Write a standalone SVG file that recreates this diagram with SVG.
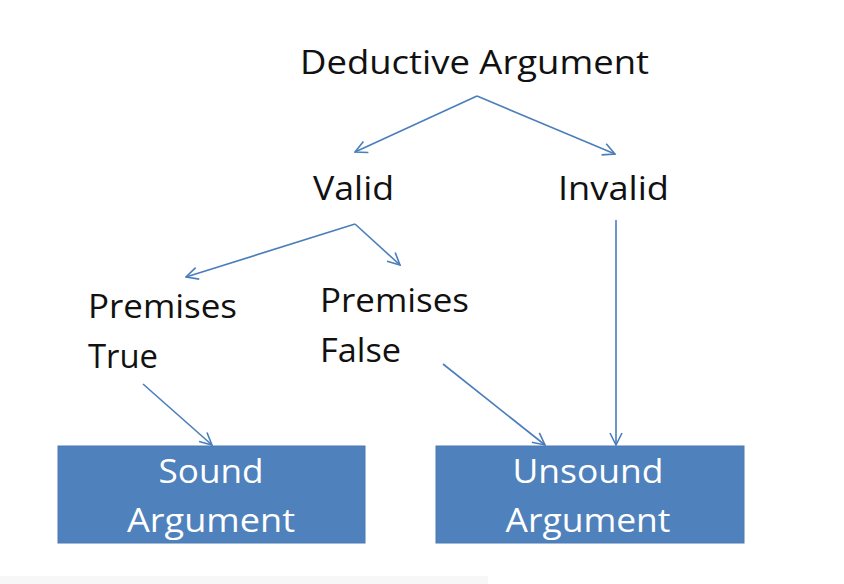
<svg xmlns="http://www.w3.org/2000/svg" width="844" height="584" viewBox="0 0 844 584">
<style>
.t{font-family:"Open Sans","Liberation Sans",sans-serif;font-size:33px;fill:#111}
.w{font-family:"Open Sans","Liberation Sans",sans-serif;font-size:33px;fill:#fff;text-anchor:middle}
.c{stroke:#4A7EBB;stroke-width:1.6;fill:none;marker-end:url(#ah)}
.box{fill:#4F81BD;stroke:#4A7AB5;stroke-width:1}
</style>
<defs>
<marker id="ah" viewBox="0 0 14 14" refX="13" refY="7" markerWidth="14" markerHeight="14" markerUnits="userSpaceOnUse" orient="auto">
<polyline points="1,1 13,7 1,13" fill="none" stroke="#4A7EBB" stroke-width="1.6"/>
</marker>
</defs>
<rect width="844" height="584" fill="#fff"/>
<rect x="0" y="576" width="488" height="8" fill="#f7f7f7"/>
<g id="connectors">
<line class="c" x1="477" y1="96" x2="355" y2="152"/>
<line class="c" x1="477" y1="96" x2="615" y2="154"/>
<line class="c" x1="355" y1="224" x2="186" y2="277"/>
<line class="c" x1="355" y1="224" x2="400" y2="265"/>
<line class="c" x1="143" y1="384" x2="212" y2="445"/>
<line class="c" x1="443" y1="364" x2="545" y2="445"/>
<line class="c" x1="616" y1="220" x2="616" y2="445"/>
</g>
<g id="deductive"><text class="t" x="300" y="74" textLength="349" lengthAdjust="spacingAndGlyphs">Deductive Argument</text></g>
<g id="valid"><text class="t" x="313" y="200" textLength="81" lengthAdjust="spacingAndGlyphs">Valid</text></g>
<g id="invalid"><text class="t" x="558" y="200" textLength="111" lengthAdjust="spacingAndGlyphs">Invalid</text></g>
<g id="premises-true">
<text class="t" x="88" y="318" textLength="149" lengthAdjust="spacingAndGlyphs">Premises</text>
<text class="t" x="88" y="368" textLength="70" lengthAdjust="spacingAndGlyphs">True</text>
</g>
<g id="premises-false">
<text class="t" x="320" y="312" textLength="149" lengthAdjust="spacingAndGlyphs">Premises</text>
<text class="t" x="320" y="362" textLength="81" lengthAdjust="spacingAndGlyphs">False</text>
</g>
<g id="sound">
<rect class="box" x="58" y="446" width="307" height="97"/>
<text class="w" x="211" y="483" textLength="105" lengthAdjust="spacingAndGlyphs">Sound</text>
<text class="w" x="211" y="532" textLength="168" lengthAdjust="spacingAndGlyphs">Argument</text>
</g>
<g id="unsound">
<rect class="box" x="436" y="446" width="308" height="97"/>
<text class="w" x="588" y="483" textLength="151" lengthAdjust="spacingAndGlyphs">Unsound</text>
<text class="w" x="588" y="532" textLength="165" lengthAdjust="spacingAndGlyphs">Argument</text>
</g>
</svg>
